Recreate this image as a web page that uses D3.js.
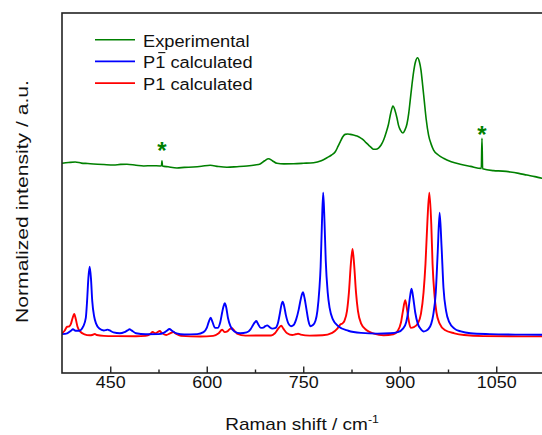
<!DOCTYPE html>
<html>
<head>
<meta charset="utf-8">
<script src="https://cdn.jsdelivr.net/npm/d3@7"></script>
<style>
  body { margin: 0; background: #fff; }
  svg { display: block; font-family: "Liberation Sans", Arial, sans-serif; }
</style>
</head>
<body>
<svg id="chart" width="542" height="435"></svg>
<script>
// x: Raman shift (cm-1), y: normalized intensity (a.u.)
const experimental = [
  [375, 1.207], [385, 1.212], [395.6, 1.216], [405, 1.208], [415, 1.205], [424, 1.202],
  [440, 1.198], [455, 1.195], [466, 1.199], [476, 1.200], [490, 1.193], [502, 1.188],
  [515, 1.19], [527.7, 1.188], [529.6, 1.189], [530.4, 1.225], [531.2, 1.188], [540, 1.182],
  [553.7, 1.174], [565, 1.178], [579, 1.181], [592, 1.186], [605.4, 1.193], [618, 1.184],
  [631.4, 1.179], [647, 1.183], [662.5, 1.188], [675, 1.195], [683, 1.202], [690, 1.225],
  [696, 1.239], [702, 1.225], [709, 1.207], [720, 1.203], [735, 1.204], [750, 1.207],
  [766, 1.211], [778, 1.225], [787, 1.246], [794, 1.265], [799.8, 1.288], [804, 1.325],
  [807.5, 1.358], [811, 1.39], [815, 1.410], [819, 1.413], [823, 1.410], [828, 1.405],
  [833.5, 1.398], [839, 1.385], [843.8, 1.370], [848, 1.350], [851.6, 1.335], [855.5, 1.318],
  [859.3, 1.305], [863, 1.305], [867, 1.314], [871, 1.335], [874.9, 1.370], [879, 1.425],
  [882.6, 1.483], [886, 1.56], [889.4, 1.609], [892.5, 1.58], [895.7, 1.525], [898, 1.475],
  [900.8, 1.441], [905, 1.420], [908, 1.44], [911.2, 1.483], [914, 1.56], [916.3, 1.651],
  [919, 1.76], [921.5, 1.848], [924.5, 1.92], [927.7, 1.948], [930.5, 1.92], [933, 1.862],
  [935.5, 1.76], [938, 1.651], [941, 1.52], [944.8, 1.405], [948.5, 1.345], [952.6, 1.300],
  [960, 1.265], [968, 1.242], [980, 1.218], [994, 1.200], [1010, 1.185], [1026.8, 1.171],
  [1027.8, 1.382], [1028.8, 1.168], [1045.8, 1.155], [1060, 1.152], [1071.8, 1.146],
  [1085, 1.136], [1097.7, 1.124], [1110, 1.113], [1121.5, 1.101], [1130, 1.095]
];

const p1barCalc = [
  [375, 0.006], [383, 0.012], [389, 0.03], [392, 0.040], [396, 0.03], [402, 0.03],
  [408, 0.06], [412, 0.12], [414, 0.24], [416, 0.40], [418, 0.48], [420, 0.40],
  [422, 0.24], [425, 0.13], [428, 0.08], [433, 0.045], [440, 0.032], [443, 0.034],
  [446, 0.038], [449, 0.032], [455, 0.018], [465, 0.012], [472, 0.02], [477, 0.033],
  [480, 0.040], [483, 0.033], [490, 0.012], [505, 0.005], [525, 0.006], [533, 0.015],
  [538, 0.03], [542, 0.042], [546, 0.03], [553, 0.012], [565, 0.004], [585, 0.006],
  [595, 0.02], [600, 0.05], [603, 0.09], [606, 0.122], [609, 0.09], [613, 0.05],
  [617, 0.05], [621, 0.09], [624, 0.16], [626, 0.20], [628, 0.223], [630, 0.20],
  [633, 0.12], [637, 0.06], [643, 0.025], [652, 0.012], [662, 0.018], [668, 0.04],
  [672, 0.07], [675, 0.09], [677, 0.098], [680, 0.075], [684, 0.05], [688, 0.052],
  [691, 0.062], [694, 0.068], [697, 0.058], [702, 0.045], [707, 0.05], [711, 0.09],
  [714, 0.16], [716, 0.21], [718, 0.234], [720, 0.21], [723, 0.14], [727, 0.08],
  [731, 0.062], [735, 0.07], [739, 0.11], [743, 0.18], [746, 0.25], [749.5, 0.300],
  [752, 0.26], [755, 0.18], [758, 0.1], [761, 0.062], [765, 0.07], [769, 0.1],
  [772, 0.17], [775, 0.32], [777, 0.48], [779, 0.78], [781, 1.0], [783, 0.80],
  [785, 0.52], [788, 0.30], [791, 0.19], [796, 0.11], [805, 0.06], [820, 0.03],
  [840, 0.015], [865, 0.01], [885, 0.012], [897, 0.02], [905, 0.045], [910, 0.09],
  [913, 0.16], [916, 0.27], [918.3, 0.325], [921, 0.26], [924, 0.16], [928, 0.08],
  [933, 0.04], [937, 0.025], [941, 0.03], [945, 0.045], [949, 0.08], [952, 0.14],
  [956, 0.30], [959, 0.58], [962, 0.859], [965, 0.62], [968, 0.33], [972, 0.17],
  [977, 0.09], [985, 0.045], [995, 0.025], [1010, 0.012], [1040, 0.006], [1080, 0.003],
  [1130, 0.002]
];

const p1Calc = [
  [375, 0.01], [379, 0.03], [383, 0.058], [386, 0.06], [389, 0.08], [391.5, 0.12],
  [394, 0.148], [396.5, 0.11], [399, 0.06], [403, 0.025], [410, 0.005], [418, -0.002],
  [423, 0.002], [426, 0.007], [429, 0.0], [440, -0.006], [460, -0.008], [490, -0.009],
  [505, -0.006], [512, 0.006], [516, 0.021], [520, 0.012], [523, 0.018], [527, 0.028],
  [530, 0.015], [537, 0.0], [543, 0.012], [548, 0.021], [552, 0.01], [560, -0.006],
  [590, -0.01], [610, -0.006], [618, 0.01], [624, 0.037], [628, 0.02], [632, 0.025],
  [636, 0.042], [639, 0.047], [642, 0.035], [647, 0.01], [660, -0.004], [700, -0.003],
  [706, 0.012], [712, 0.05], [715.8, 0.065], [719, 0.045], [725, 0.012], [733, 0.0],
  [738, 0.005], [742, 0.009], [746, 0.003], [760, -0.004], [780, -0.002], [795, 0.015],
  [803, 0.045], [808, 0.075], [811, 0.082], [814, 0.10], [818, 0.17], [821, 0.30],
  [824, 0.50], [826.6, 0.604], [829, 0.50], [832, 0.30], [835, 0.17], [840, 0.08],
  [848, 0.035], [860, 0.01], [875, -0.002], [890, 0.005], [897, 0.03], [902, 0.09],
  [905, 0.17], [908.5, 0.244], [911, 0.19], [914, 0.10], [917, 0.05], [922, 0.055],
  [928, 0.08], [933, 0.15], [937, 0.30], [940, 0.50], [943, 0.80], [946, 1.0],
  [949, 0.78], [951, 0.50], [954, 0.28], [957, 0.16], [962, 0.08], [970, 0.035],
  [985, 0.012], [1000, 0.0], [1030, -0.008], [1130, -0.01]
];

// the two "*" marks on the experimental trace
const asterisks = [[530.4, 1.321], [1027.8, 1.437]];

const majorTicks = [450, 600, 750, 900, 1050];
const minorTicks = [525, 675, 825, 975];

const legendItems = [
  { name: 'Experimental', color: '#008000' },
  { name: 'P1 calculated', color: '#0000ff', bar: true },
  { name: 'P1 calculated', color: '#ff0000' }
];

const svg = d3.select('#chart');
const plotLeft = 62, plotTop = 13, plotBottom = 373;
const sx = 1.12; // the source fonts look horizontally stretched

const x = d3.scaleLinear().domain([375, 1130]).range([plotLeft, plotLeft + 755 * 96.5 / 150]);
const y = d3.scaleLinear().domain([-0.267, 2.263]).range([plotBottom, plotTop]);

svg.append('clipPath').attr('id', 'plot_clip')
  .append('rect')
  .attr('x', x(375)).attr('y', plotTop)
  .attr('width', x(1130) - x(375)).attr('height', plotBottom - plotTop);

const line = d3.line()
  .x(d => x(d[0]))
  .y(d => y(d[1]))
  .curve(d3.curveMonotoneX);

const plot = svg.append('g').attr('clip-path', 'url(#plot_clip)');

// 绘制三条谱线
plot.append('path').datum(p1Calc)
  .attr('d', line).attr('fill', 'none')
  .attr('stroke', '#ff0000').attr('stroke-width', 1.9);
plot.append('path').datum(p1barCalc)
  .attr('d', line).attr('fill', 'none')
  .attr('stroke', '#0000ff').attr('stroke-width', 1.9);
plot.append('path').datum(experimental)
  .attr('d', line).attr('fill', 'none')
  .attr('stroke', '#008000').attr('stroke-width', 1.6);

plot.selectAll('.star')
  .data(asterisks)
  .enter()
  .append('text')
  .attr('class', 'star')
  .text('*')
  .attr('x', d => x(d[0]))
  .attr('y', d => y(d[1]) + 12)
  .attr('text-anchor', 'middle')
  .attr('font-size', 24)
  .attr('font-weight', 'bold')
  .attr('fill', '#008000');

// frame
svg.append('rect')
  .attr('x', x(375)).attr('y', plotTop)
  .attr('width', x(1130) - x(375)).attr('height', plotBottom - plotTop)
  .attr('fill', 'none').attr('stroke', '#222').attr('stroke-width', 1.6);

// bottom axis, ticks pointing inwards
const xAxis = svg.append('g')
  .attr('transform', `translate(0, ${plotBottom})`)
  .call(d3.axisBottom(x).tickValues(majorTicks).tickSizeInner(-6.5).tickSizeOuter(0).tickFormat(d3.format('d')));
xAxis.select('.domain').remove();
xAxis.selectAll('.tick line').attr('stroke', '#222').attr('stroke-width', 1.4);
xAxis.selectAll('.tick text')
  .attr('y', 15).attr('dy', 0)
  .attr('font-size', 16)
  .attr('font-family', '"Liberation Sans", Arial, sans-serif')
  .attr('fill', '#111')
  .attr('transform', `scale(${sx},1)`);

const xMinor = svg.append('g')
  .attr('transform', `translate(0, ${plotBottom})`)
  .call(d3.axisBottom(x).tickValues(minorTicks).tickSizeInner(-3.5).tickSizeOuter(0).tickFormat(''));
xMinor.select('.domain').remove();
xMinor.selectAll('.tick line').attr('stroke', '#222').attr('stroke-width', 1.4);

// axis titles
const xTitle = svg.append('text')
  .attr('transform', `translate(302, 430) scale(${sx},1)`)
  .attr('text-anchor', 'middle')
  .attr('font-size', 17)
  .attr('fill', '#111');
xTitle.append('tspan').text('Raman shift / cm');
xTitle.append('tspan').text('-1').attr('font-size', 11).attr('dy', -7);

svg.append('text')
  .attr('transform', 'translate(27.5, 201.5) rotate(-90)')
  .attr('text-anchor', 'middle')
  .attr('font-size', 17)
  .attr('fill', '#111')
  .attr('textLength', 243)
  .attr('lengthAdjust', 'spacingAndGlyphs')
  .text('Normalized intensity / a.u.');

// 绘制Legend
const legendWarp = svg.append('g').attr('transform', 'translate(95, 46.7)');
legendItems.forEach((item, i) => {
  const g = legendWarp.append('g').attr('transform', `translate(0, ${i * 21.7})`);
  g.append('line')
    .attr('x1', 0).attr('x2', 40)
    .attr('y1', -7).attr('y2', -7)
    .attr('stroke', item.color).attr('stroke-width', 1.6);
  const tg = g.append('g').attr('transform', `translate(48, 0) scale(${sx},1)`);
  const t = tg.append('text')
    .text(item.name)
    .attr('font-size', 16.3)
    .attr('fill', '#111');
  if (item.bar) {
    const node = t.node();
    const x0 = node.getSubStringLength(0, 1);
    const w1 = node.getSubStringLength(1, 1);
    tg.append('line')
      .attr('x1', x0 + w1 * 0.3).attr('x2', x0 + w1)
      .attr('y1', -15.8).attr('y2', -15.8)
      .attr('stroke', '#111').attr('stroke-width', 1.1);
  }
});
</script>
</body>
</html>
